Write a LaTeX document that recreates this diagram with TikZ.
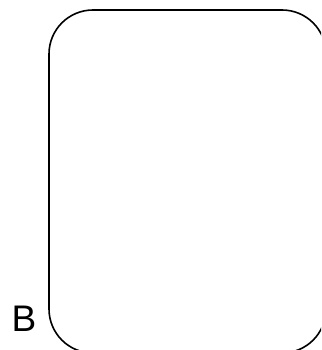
\documentclass[tikz,border=0pt]{standalone}
\usepackage{fontspec}
\setmainfont{Liberation Sans}
\usetikzlibrary{positioning}

\begin{document}
\begin{tikzpicture}[x=1pt,y=1pt,
		frame/.style={draw,line width=1.6pt,rounded corners=44pt,
			minimum width=277pt,minimum height=343pt,inner sep=0pt},
		lbl/.style={inner sep=0pt,font=\fontsize{37}{40}\selectfont}]
	
	% canvas
	\useasboundingbox (0,0) rectangle (321,350);
	\clip (0,0) rectangle (321,350);
	
	% the box and its label
	\node[frame] (box) at (187.5,168.5) {};
	\node[lbl] (b) at (24,31) {B};
	
\end{tikzpicture}
\end{document}
